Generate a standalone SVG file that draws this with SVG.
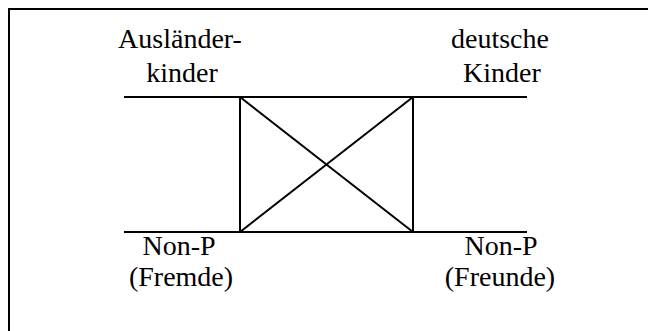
<svg xmlns="http://www.w3.org/2000/svg" width="648" height="331" viewBox="0 0 648 331">
<style>
.t{font-size:28px;fill:#000;text-anchor:middle}
.l{stroke:#000;stroke-width:2;fill:none}
</style>
<rect x="0" y="0" width="648" height="331" fill="#fff"/>
<rect x="9" y="9" width="660" height="340" class="l"/>
<g id="connectors">
<line x1="124" y1="97" x2="527" y2="97" class="l"/>
<line x1="124" y1="232" x2="527" y2="232" class="l"/>
<line x1="240" y1="97" x2="240" y2="232" class="l"/>
<line x1="413" y1="97" x2="413" y2="232" class="l"/>
<line x1="240" y1="97" x2="413" y2="232" class="l"/>
<line x1="413" y1="97" x2="240" y2="232" class="l"/>
</g>
<g id="auslaenderkinder" font-family="Liberation Serif, Times New Roman, serif">
<text class="t" x="180" y="48">Ausländer-</text>
<text class="t" x="182" y="82">kinder</text>
</g>
<g id="deutsche-kinder" font-family="Liberation Serif, Times New Roman, serif">
<text class="t" x="500" y="48">deutsche</text>
<text class="t" x="502" y="82">Kinder</text>
</g>
<g id="non-p-fremde" font-family="Liberation Serif, Times New Roman, serif">
<text class="t" x="179" y="255">Non-P</text>
<text class="t" x="181" y="286">(Fremde)</text>
</g>
<g id="non-p-freunde" font-family="Liberation Serif, Times New Roman, serif">
<text class="t" x="501" y="255">Non-P</text>
<text class="t" x="500" y="286">(Freunde)</text>
</g>
</svg>
